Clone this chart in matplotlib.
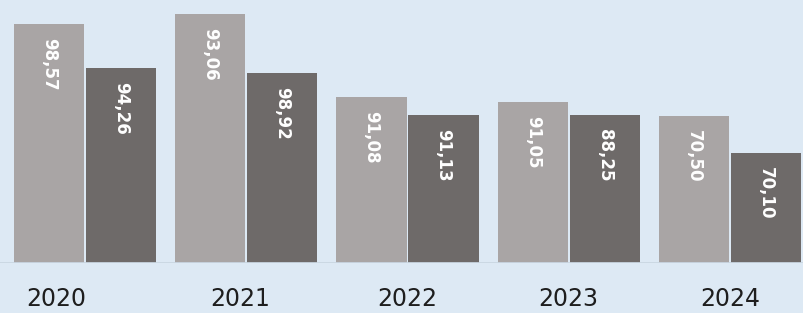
import matplotlib
matplotlib.use("Agg")
import matplotlib.pyplot as plt
import numpy as np

years = ["2020", "2021", "2022", "2023", "2024"]
# bar heights (axis does not start at zero)
series_a = [98.6, 100.8, 82.4, 81.3, 78.2]
series_b = [88.9, 87.7, 78.5, 78.5, 70.1]
# value labels as printed on the bars
labels_a = ["98,57", "93,06", "91,08", "91,05", "70,50"]
labels_b = ["94,26", "98,92", "91,13", "88,25", "70,10"]

bg = "#dde9f4"
col_a = "#a9a5a5"
col_b = "#6e6a69"

fig = plt.figure(figsize=(8.04, 3.13), dpi=100, facecolor=bg)
ax = fig.add_axes([0, 50 / 313, 1, 263 / 313])
ax.set_facecolor(bg)

x = np.arange(len(years))
w = 0.435
gap = 0.006
ba = ax.bar(x - w / 2 - gap, series_a, width=w, color=col_a, zorder=2)
bb = ax.bar(x + w / 2 + gap, series_b, width=w, color=col_b, zorder=2)

ax.set_ylim(45.8, 103.9)
ax.set_xlim(-0.528, 4.46)

for bars, labs in ((ba, labels_a), (bb, labels_b)):
    for r, t in zip(bars, labs):
        ax.annotate(t, (r.get_x() + r.get_width() / 2, r.get_height()),
                    xytext=(0, -10), textcoords="offset points",
                    rotation=-90, ha="center", va="top", color="white",
                    fontsize=12, fontweight="bold", fontfamily="DejaVu Sans")

for s in ax.spines.values():
    s.set_visible(False)
ax.set_yticks([])
ax.set_xticks(x - np.array([0.18, 0.04, 0, 0, 0]))
ax.set_xticklabels(years, fontsize=17, color="#1e1e1e", fontfamily="DejaVu Sans")
ax.tick_params(axis="x", length=0, pad=17)
ax.axhline(45.8, color="#c9d6e2", lw=2, zorder=3)

fig.savefig("out.png", dpi=100, facecolor=bg)
